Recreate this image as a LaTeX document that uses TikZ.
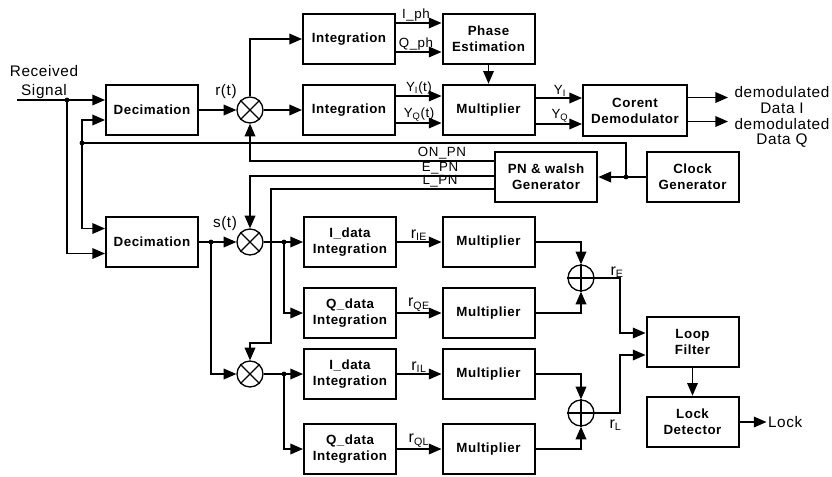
\documentclass[tikz,border=0pt]{standalone}
\usepackage{fontspec}
\setmainfont{Liberation Sans}[LetterSpace=4]
\usetikzlibrary{arrows.meta,calc}
\begin{document}
\begin{tikzpicture}[x=0.75pt,y=-0.75pt,
  box/.style={draw, line width=1.5pt, minimum width=69pt, minimum height=38pt, align=center,
    font=\fontsize{10}{12}\selectfont\bfseries, inner sep=1pt},
  wire/.style={line width=1pt},
  arr/.style={wire, -{Triangle[length=9.5pt,width=8pt]}},
  mix/.style={circle, draw, line width=1pt, minimum size=19.5pt, inner sep=0pt},
  lab/.style={font=\fontsize{10}{12}\selectfont, inner sep=1pt},
  rlab/.style={font=\fontsize{12}{12}\selectfont, inner sep=1pt},
  big/.style={font=\fontsize{11.5}{12}\selectfont, align=center, inner sep=1pt}
]
\useasboundingbox (0,0) rectangle (832,476);

% boxes
\node[box] (dec1) at (152,110) {Decimation};
\node[box] (dec2) at (152,242) {Decimation};
\node[box] (int1) at (349,39) {Integration};
\node[box] (int2) at (349,110) {Integration};
\node[box] (phase) at (488.5,39) {Phase\\Estimation};
\node[box] (mult) at (488.5,110) {Multiplier};
\node[box, minimum width=78pt] (cor) at (635,110.5) {Corent\\Demodulator};
\node[box, minimum width=77pt] (pn) at (546,177) {PN \& walsh\\Generator};
\node[box] (clk) at (692.5,177) {Clock\\Generator};
\node[box] (idE) at (350,242) {I\_data\\Integration};
\node[box] (qdE) at (350,313) {Q\_data\\Integration};
\node[box] (idL) at (350,374) {I\_data\\Integration};
\node[box] (qdL) at (350,449) {Q\_data\\Integration};
\node[box] (mIE) at (488.5,242) {Multiplier};
\node[box] (mQE) at (488.5,313) {Multiplier};
\node[box] (mIL) at (488.5,374) {Multiplier};
\node[box] (mQL) at (488.5,449) {Multiplier};
\node[box] (loop) at (692.5,342) {Loop\\Filter};
\node[box] (lock) at (692.5,422) {Lock\\Detector};

% mixers and adders
\node[mix] (m1) at (250,110) {};
\node[mix] (m2) at (250,242) {};
\node[mix] (m3) at (250,374) {};
\foreach \m in {m1,m2,m3} \draw[wire] (\m.45) -- (\m.225) (\m.135) -- (\m.315);
\node[mix] (aE) at (581,278) {};
\node[mix] (aL) at (581,413) {};
\foreach \m in {aE,aL} \draw[wire] (\m.north) -- (\m.south) (\m.west) -- (\m.east);

% input and clock distribution
\node[big] (rs) at (44,82) {Received\\[2pt]Signal};
\coordinate (in) at (17,100);
\coordinate (j1) at (67,100);
\draw[arr] (in) -- (in -| dec1.west);
\draw[arr] (j1) |- ($(dec2.west)+(0,11.5)$);
\coordinate (jc) at (626,177);
\coordinate (j2) at (82,143);
\draw[arr] (clk.west) -- (pn.east);
\draw[wire] (jc) -- (jc |- j2) -- (j2);
\draw[arr] (j2) |- ($(dec1.west)+(0,10)$);
\draw[arr] (j2) |- ($(dec2.west)+(0,-13.5)$);

% top path
\draw[arr] (dec1) -- (m1);
\node[big, anchor=south] at (226,100) {r(t)};
\draw[arr] (m1.north) |- (int1.west);
\draw[arr] (m1) -- (int2);
\draw[arr] ($(int1.east)+(0,-16)$) coordinate (t1) -- (t1 -| phase.west);
\draw[arr] ($(int1.east)+(0,13)$) coordinate (t2) -- (t2 -| phase.west);
\node[lab, anchor=south] at (416,23) {I\_ph};
\node[lab, anchor=south] at (416,52) {Q\_ph};
\draw[arr] ($(int2.east)+(0,-14)$) coordinate (t3) -- (t3 -| mult.west);
\draw[arr] ($(int2.east)+(0,13)$) coordinate (t4) -- (t4 -| mult.west);
\node[lab, anchor=south] at (419,96) {Y\textsubscript{I}(t)};
\node[lab, anchor=south] at (419,123) {Y\textsubscript{Q}(t)};
\draw[arr] (phase) -- (mult);
\draw[arr] ($(mult.east)+(0,-12)$) coordinate (t5) -- (t5 -| cor.west);
\draw[arr] ($(mult.east)+(0,14)$) coordinate (t6) -- (t6 -| cor.west);
\node[lab, anchor=south] at (560,98) {Y\textsubscript{I}};
\node[lab, anchor=south] at (560,124) {Y\textsubscript{Q}};
\draw[arr] ($(cor.east)+(0,-13)$) -- ++(40,0) coordinate (o1);
\draw[arr] ($(cor.east)+(0,11)$) -- ++(40,0) coordinate (o2);
\node[big, font=\fontsize{11.5}{11.5}\selectfont] at (782,100) {demodulated\\Data I};
\node[big, font=\fontsize{11.5}{11.5}\selectfont] at (782,133) {demodulated\\Data Q};

% PN lines
\draw[arr] ($(pn.west)+(0,-16)$) coordinate (on) -- (on -| m1) -- (m1.south);
\draw[arr] ($(pn.west)+(0,-1)$) coordinate (ep) -- (ep -| m2) -- (m2.north);
\coordinate (lpc) at (271,343);
\draw[arr] ($(pn.west)+(0,12)$) coordinate (lp) -- (lp -| lpc) -- (lpc) -- (lpc -| m3) -- (m3.north);
\node[lab, anchor=south] at (442,161) {ON\_PN};
\node[lab, anchor=south] at (440,176) {E\_PN};
\node[lab, anchor=south] at (440,189) {L\_PN};

% lower path
\draw[arr] (dec2) -- (m2);
\node[big, anchor=south] at (225,232) {s(t)};
\coordinate (j3) at (211,242);
\draw[arr] (j3) |- (m3);
\draw[arr] (m2) -- (idE);
\coordinate (j4) at (284,242);
\draw[arr] (j4) |- (qdE);
\draw[arr] (m3) -- (idL);
\coordinate (j5) at (284,374);
\draw[arr] (j5) |- (qdL);
\draw[arr] (idE) -- (mIE);
\draw[arr] (qdE) -- (mQE);
\draw[arr] (idL) -- (mIL);
\draw[arr] (qdL) -- (mQL);
\node[rlab, anchor=south] at (419,242) {r\textsubscript{IE}};
\node[rlab, anchor=south] at (419,313) {r\textsubscript{QE}};
\node[rlab, anchor=south] at (419,374) {r\textsubscript{IL}};
\node[rlab, anchor=south] at (419,449) {r\textsubscript{QL}};
\draw[arr] (mIE) -| (aE.north);
\draw[arr] (mQE) -| (aE.south);
\draw[arr] (mIL) -| (aL.north);
\draw[arr] (mQL) -| (aL.south);
\coordinate (eo) at (620,278);
\coordinate (lo) at (620,413);
\draw[arr] (aE) -- (eo) |- ($(loop.west)+(0,-9)$);
\draw[arr] (aL) -- (lo) |- ($(loop.west)+(0,13)$);
\node[rlab, anchor=south west] at (609,279) {r\textsubscript{E}};
\node[rlab, anchor=north west] at (608,418) {r\textsubscript{L}};
\draw[arr] (loop) -- (lock);
\draw[arr] (lock.east) -- ++(27,0) coordinate (lk);
\node[big, anchor=west] at (lk) {Lock};

% junction dots
\foreach \j in {j1,j2,j3,j4,j5,jc} \fill (\j) circle (1.8pt);
\end{tikzpicture}
\end{document}
